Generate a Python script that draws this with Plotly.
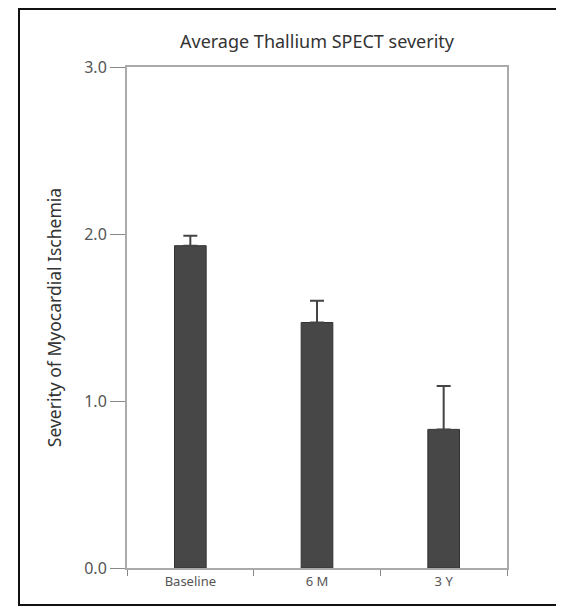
import plotly.graph_objects as go

categories = ["Baseline", "6 M", "3 Y"]
means = [1.93, 1.47, 0.83]
err_plus = [0.06, 0.13, 0.26]
y_ticks = [0.0, 1.0, 2.0, 3.0]
y_tick_labels = ["0.0", "1.0", "2.0", "3.0"]

# page offset (browser body margin) of 8 px
OFF = 8
W, H = 556, 600
L, T = 127 - OFF, 67 - OFF
pw, ph = 380, 501
R, B = W - L - pw, H - T - ph

def px_to_paper_x(px):
    return (px - OFF - L) / pw

def px_to_paper_y(py):
    return (T + ph - (py - OFF)) / ph

FONT = "Noto Sans, Lato, sans-serif"

fig = go.Figure()
fig.add_trace(go.Bar(
    x=categories, y=means,
    width=0.25,
    marker=dict(color="#474747", line=dict(color="#333333", width=1)),
    error_y=dict(type="data", symmetric=False, array=err_plus, arrayminus=[0, 0, 0],
                 color="#444444", thickness=2, width=7),
))

fig.update_layout(
    width=W, height=H,
    margin=dict(l=L, r=R, t=T, b=B),
    paper_bgcolor="white", plot_bgcolor="white",
    showlegend=False,
    font=dict(family=FONT, color="#444444"),
    title=dict(text="Average Thallium SPECT severity", x=(L + pw / 2) / W, xanchor="center",
               y=1 - (42 - OFF) / H, yanchor="middle", font=dict(size=18, color="#333333", family=FONT)),
    shapes=[dict(type="rect", xref="paper", yref="paper",
                 x0=px_to_paper_x(19), x1=px_to_paper_x(563),
                 y0=px_to_paper_y(605), y1=px_to_paper_y(9),
                 line=dict(color="#111111", width=2), fillcolor="rgba(0,0,0,0)", layer="below")],
)

fig.update_xaxes(
    type="category", tickson="boundaries", ticks="outside", ticklen=6, tickwidth=1,
    tickcolor="#888888", showline=True, linecolor="#aaaaaa", linewidth=2, mirror=True,
    showgrid=False, tickfont=dict(size=13, color="#555555", family=FONT),
    range=[-0.5, 2.5],
)
fig.update_yaxes(
    range=[0, 3.0], tickvals=y_ticks, ticktext=y_tick_labels, ticks="outside", ticklen=15,
    tickwidth=1, tickcolor="#888888", showline=True, linecolor="#aaaaaa", linewidth=2,
    mirror=True, showgrid=False, zeroline=False,
    tickfont=dict(size=16, color="#555555", family=FONT),
    title=dict(text="Severity of Myocardial Ischemia", standoff=18,
               font=dict(size=17.5, color="#333333", family=FONT)),
)

fig.write_html("out.html")
